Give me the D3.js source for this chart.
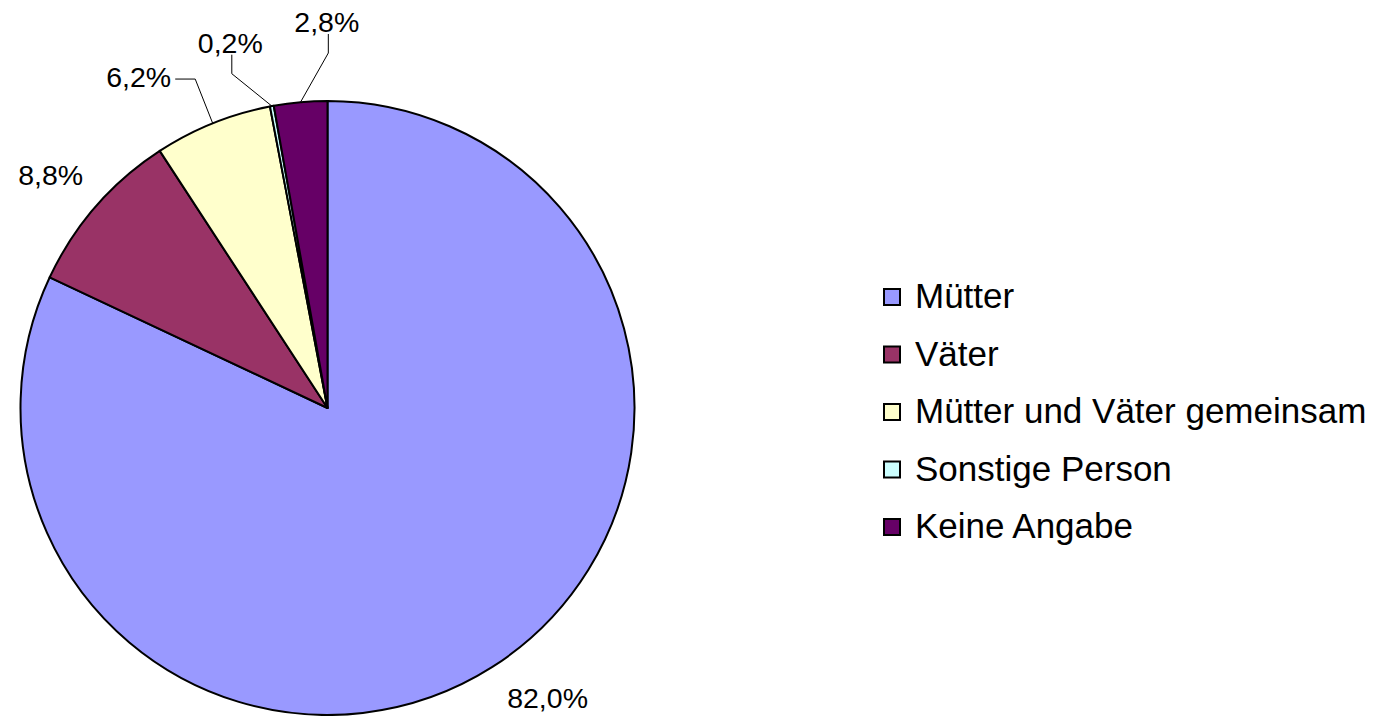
<!DOCTYPE html>
<html>
<head>
<meta charset="utf-8">
<script src="https://cdn.jsdelivr.net/npm/d3@7"></script>
<style>
	body { margin: 0; background: #fff; }
	svg { display: block; font-family: "Liberation Sans", Arial, Helvetica, sans-serif; }
</style>
</head>
<body>
<script>
// chart data
var categories = ["Mütter", "Väter", "Mütter und Väter gemeinsam", "Sonstige Person", "Keine Angabe"];
var shares = [82.0, 8.8, 6.2, 0.2, 2.8];
var labels = ["82,0%", "8,8%", "6,2%", "0,2%", "2,8%"];
var colors = ["#9999FF", "#993366", "#FFFFCC", "#CCFFFF", "#660066"];

// label placement (angle in degrees clockwise from top, distance from centre)
var labelAngle = [142.8, 310.1, 330.3, 345.1, 359.9];
var labelDist = [364, 362, 381, 378, 386];
// where a leader line meets the label: none, right side or bottom
var leaderSide = ["none", "none", "right", "bottom", "bottom"];

window.onload = function(){
	var w = 1380, h = 716;
	var cx = 327.5, cy = 408, r = 307;

	var svg = d3.select("body")
		.append("svg")
		.attr("width", w)
		.attr("height", h);

	var pie = d3.pie().sort(null).value(function(d){ return d; });
	var arcs = pie(shares);
	var arc = d3.arc().innerRadius(0).outerRadius(r);

	var g = svg.append("g")
		.attr("transform", "translate(" + cx + "," + cy + ")");

	// slices
	g.selectAll(".slice")
		.data(arcs)
		.enter()
		.append("path")
		.attr("class", "slice")
		.attr("d", arc)
		.style("fill", function(d, i){ return colors[i]; })
		.style("stroke", "#000")
		.style("stroke-width", 2)
		.style("stroke-linejoin", "round");

	// point on a circle, angle in radians clockwise from top
	function polar(a, d){
		return [d * Math.sin(a), -d * Math.cos(a)];
	}

	var fs = 28.5;

	// labels
	arcs.forEach(function(d, i){
		var p = polar(labelAngle[i] * Math.PI / 180, labelDist[i]);
		var t = g.append("text")
			.attr("x", p[0])
			.attr("y", p[1])
			.attr("dy", "0.35em")
			.attr("text-anchor", "middle")
			.style("font-size", fs + "px")
			.text(labels[i]);

		if (leaderSide[i] === "none") return;
		var bw = t.node().getBBox().width;
		var mid = (d.startAngle + d.endAngle) / 2;
		var start = polar(mid, r);
		var end, elbow;
		if (leaderSide[i] === "right"){
			end = [p[0] + bw / 2 + 4, p[1] + 2];
			elbow = [end[0] + 20, end[1]];
		} else {
			end = [p[0] + 1.5, p[1] + 12];
			elbow = [end[0], end[1] + 19];
		}
		g.append("polyline")
			.attr("points", [end, elbow, start].map(function(q){ return q.join(","); }).join(" "))
			.style("fill", "none")
			.style("stroke", "#000")
			.style("stroke-width", 1);
	});

	// legend
	var legend = svg.append("g").attr("class", "legend");
	var rowY = d3.scalePoint().domain(categories).range([297, 527]);
	var rows = legend.selectAll(".row")
		.data(categories)
		.enter()
		.append("g")
		.attr("class", "row")
		.attr("transform", function(d){ return "translate(884," + rowY(d) + ")"; });

	rows.append("rect")
		.attr("x", 0)
		.attr("y", -8)
		.attr("width", 16)
		.attr("height", 16)
		.style("fill", function(d, i){ return colors[i]; })
		.style("stroke", "#000")
		.style("stroke-width", 2);

	rows.append("text")
		.attr("x", 31)
		.attr("y", 11)
		.style("font-size", "35px")
		.text(function(d){ return d; });
};
</script>
</body>
</html>
